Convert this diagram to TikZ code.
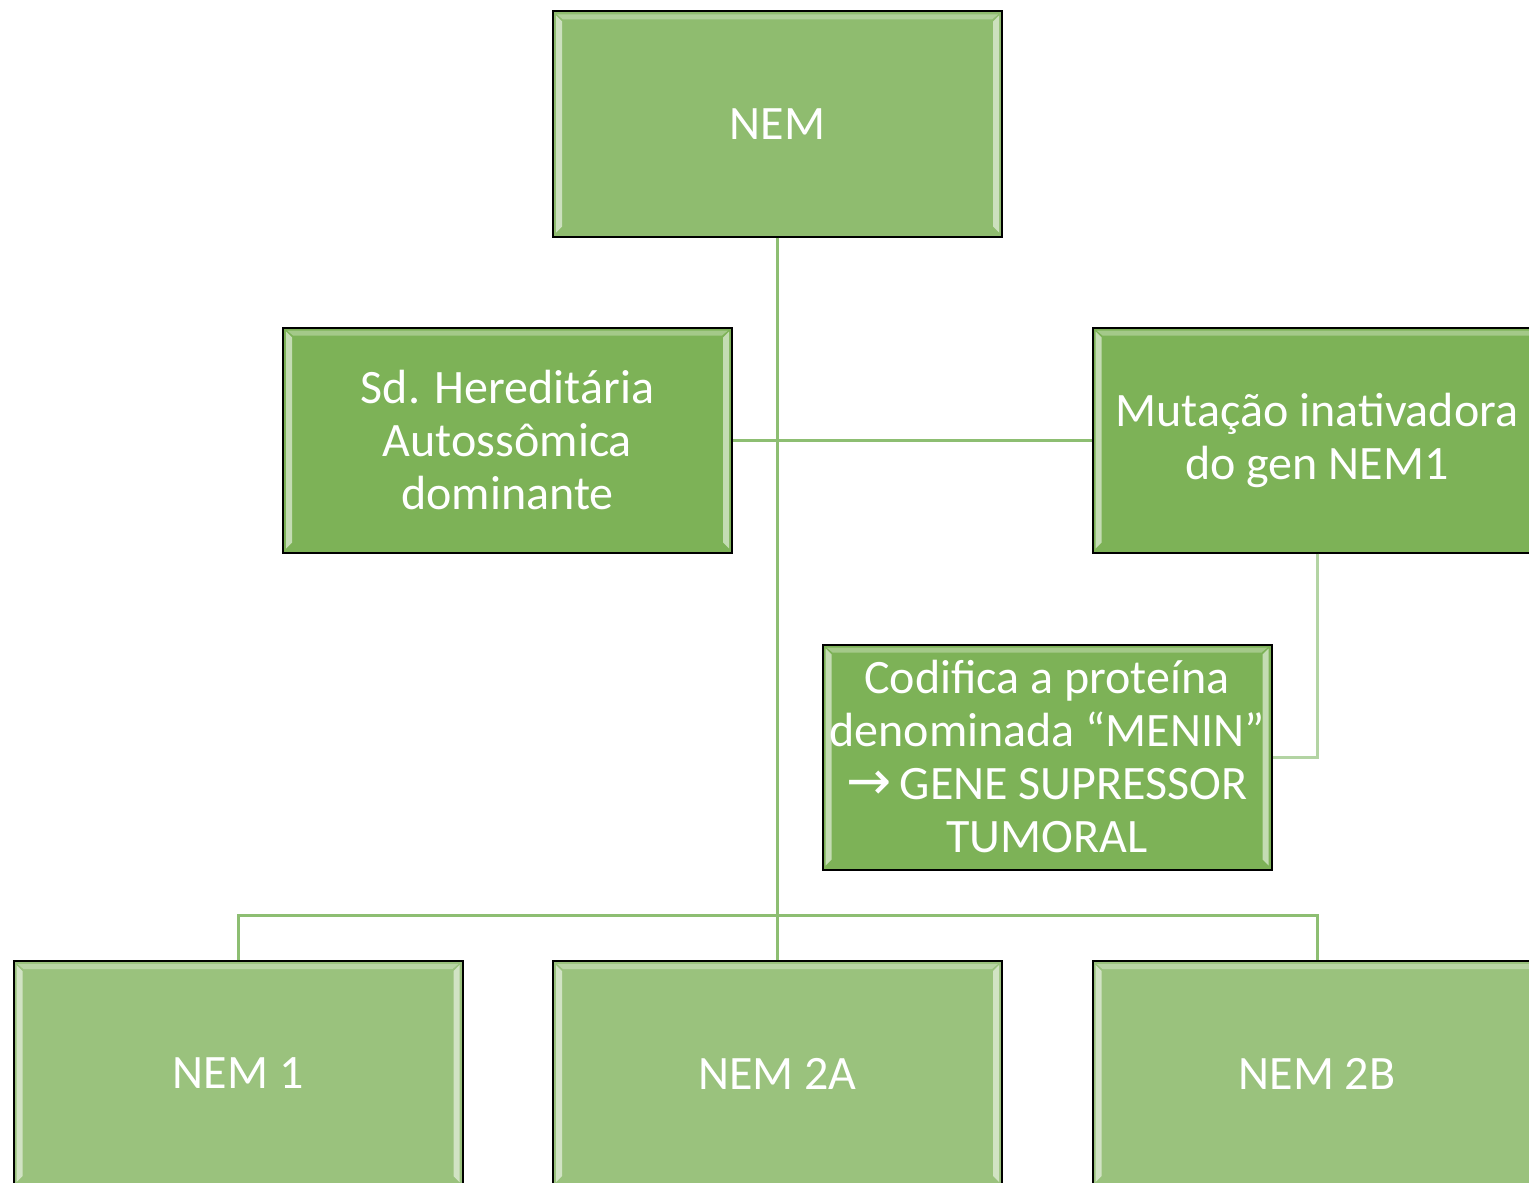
\documentclass[tikz,border=0pt]{standalone}
\usepackage{fontspec}
\setmainfont{Carlito}
\newfontfamily\arrowfont{DejaVu Sans}
\usetikzlibrary{positioning,calc}
\definecolor{nemtop}{HTML}{8FBC6F}
\definecolor{nemmid}{HTML}{7DB257}
\definecolor{nembot}{HTML}{9AC27D}
\definecolor{nemline}{HTML}{8DBE72}
\definecolor{nemlinelt}{HTML}{B3D4A3}
\newcommand{\nemfont}{\fontsize{24}{26.5}\selectfont}
\tikzset{
  nembox/.style={draw=black,line width=1pt,minimum width=224.5pt,
    minimum height=112.5pt,inner sep=0pt,text=white,align=center,
    font=\nemfont,
    path picture={
      % bevel strips
      \fill[white,opacity=.55]
        ($(path picture bounding box.south west)+(1.5pt,2pt)$) --
        ($(path picture bounding box.south west)+(4.5pt,5pt)$) --
        ($(path picture bounding box.north west)+(4.5pt,-5pt)$) --
        ($(path picture bounding box.north west)+(1.5pt,-2pt)$) -- cycle;
      \fill[white,opacity=.55]
        ($(path picture bounding box.south east)+(-1.5pt,2pt)$) --
        ($(path picture bounding box.south east)+(-4.5pt,5pt)$) --
        ($(path picture bounding box.north east)+(-4.5pt,-5pt)$) --
        ($(path picture bounding box.north east)+(-1.5pt,-2pt)$) -- cycle;
      \fill[white,opacity=.3]
        ($(path picture bounding box.north west)+(2pt,-1.5pt)$) --
        ($(path picture bounding box.north east)+(-2pt,-1.5pt)$) --
        ($(path picture bounding box.north east)+(-5pt,-4pt)$) --
        ($(path picture bounding box.north west)+(5pt,-4pt)$) -- cycle;
    }},
  link/.style={draw=nemline,line width=1.5pt},
  linklt/.style={draw=nemlinelt,line width=1.5pt}
}
\begin{document}
\begin{tikzpicture}[x=0.5pt,y=-0.5pt]
  \fill[white] (0,0) rectangle (1529,1182);
  \useasboundingbox (0,0) rectangle (1529,1182);

  % ---- boxes -------------------------------------------------
  \node[nembox,fill=nemtop] (nem) at (777.5,124) {NEM};
  \node[nembox,fill=nemmid] (sd)  at (507.5,440)
    {Sd. Hereditária\\Autossômica\\dominante};
  \node[nembox,fill=nemmid] (mut) at (1317,440)
    {Mutação inativadora\\do gen NEM1};
  \node[nembox,fill=nemmid] (cod) at (1047,757)
    {Codifica a proteína\\denominada “MENIN”\\{\arrowfont\fontsize{27}{26.5}\selectfont →}\,GENE SUPRESSOR\\TUMORAL};
  \node[nembox,fill=nembot] (nem1)  at (238,1073.5)   {NEM 1};
  \node[nembox,fill=nembot] (nem2a) at (777.5,1073.5) {NEM 2A};
  \node[nembox,fill=nembot] (nem2b) at (1317,1073.5)  {NEM 2B};

  % ---- connectors --------------------------------------------
  \coordinate (bus) at (777.5,915);
  \draw[link] (nem.south) -- (nem2a.north);
  \draw[link] (sd.east) -- (mut.west);
  \draw[link] (nem1.north) |- (bus) -| (nem2b.north);
  \draw[linklt] (mut.south) |- (cod.east);

\end{tikzpicture}
\end{document}
